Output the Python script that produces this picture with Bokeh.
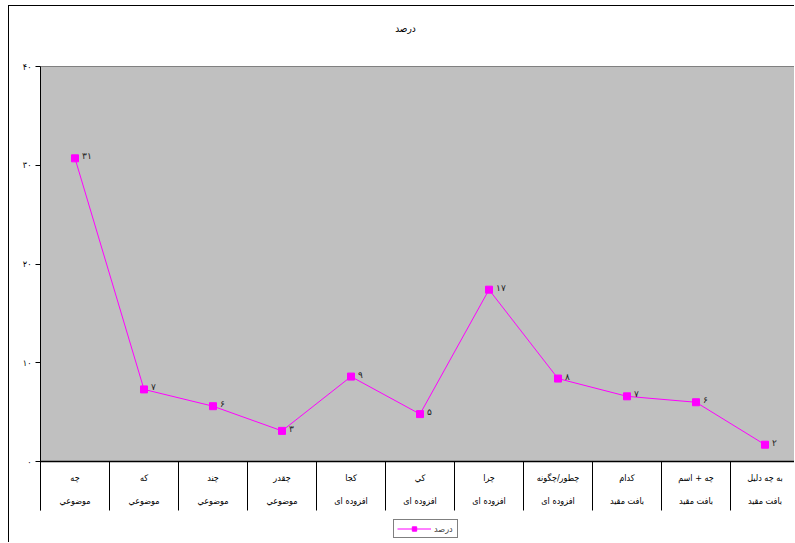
from bokeh.plotting import figure
from bokeh.models import (Range1d, ColumnDataSource, LabelSet, FixedTicker,
                          Legend, LegendItem)
from bokeh.core.properties import value
from bokeh.embed import file_html
from bokeh.resources import INLINE

# ---- data ----
title_text = "درصد"
series_name = "درصد"
categories_top = ["چه", "كه", "چند", "چقدر", "كجا", "كي", "چرا", "چطور/چگونه",
                  "كدام", "چه + اسم", "به چه دليل"]
categories_bottom = ["موضوعي", "موضوعي", "موضوعي", "موضوعي",
                     "افزوده ای", "افزوده ای", "افزوده ای", "افزوده ای",
                     "بافت مقيد", "بافت مقيد", "بافت مقيد"]
values = [30.7, 7.3, 5.6, 3.1, 8.6, 4.8, 17.4, 8.4, 6.6, 6.0, 1.7]
value_labels = ["۳۱", "۷", "۶", "۳", "۹", "۵", "۱۷", "۸", "۷", "۶", "۲"]
y_ticks = [0, 10, 20, 30, 40]
y_tick_labels = ["۰", "۱۰", "۲۰", "۳۰", "۴۰"]

# ---- layout constants (pixels) ----
W, H = 786, 537
B_LEFT = 31
TOP_PX = 60          # frame top -> value 40
PLOT_PX = 395        # value 40 -> value 0
BELOW_PX = H - TOP_PX - PLOT_PX
CAT_PX = 69.0
n = len(values)
y_min, y_max = 0, 40
ppu = PLOT_PX / (y_max - y_min)
x_end = (W - B_LEFT) / CAT_PX
y_top = y_max + TOP_PX / ppu
y_bot = y_min - BELOW_PX / ppu

FONT = "'DejaVu Sans Condensed', 'DejaVu Sans', sans-serif"

p = figure(width=W, height=H, x_range=Range1d(0, x_end), y_range=Range1d(y_bot, y_top),
           output_backend="svg", toolbar_location=None,
           min_border_left=B_LEFT, min_border_right=0,
           min_border_top=0, min_border_bottom=0,
           background_fill_color="white", border_fill_color="white",
           outline_line_color=None)
p.styles = {"margin-left": "8px", "margin-top": "5px",
            "border-left": "1px solid black", "border-top": "1px solid black"}
p.grid.visible = False
p.xaxis.visible = False

# grey plot area
p.quad(left=[0], right=[x_end + 1], bottom=[y_min], top=[y_max],
       fill_color="#C0C0C0", line_color="#808080", line_width=1)

# y axis limited to the plot area + category table
ya = p.yaxis[0]
ya.bounds = (y_min - 49 / ppu, y_max)
ya.ticker = FixedTicker(ticks=y_ticks)
ya.major_label_overrides = {t: l for t, l in zip(y_ticks, y_tick_labels)}
ya.major_label_text_font = FONT
ya.major_label_text_font_size = "9px"
ya.major_label_text_color = "black"
ya.major_tick_in = 0
ya.major_tick_out = 5
ya.major_label_standoff = 4
ya.axis_line_color = "black"
ya.major_tick_line_color = "black"
ya.minor_tick_line_color = None

# category axis line and table separators
bounds = list(range(n + 1))
p.segment(x0=[0], x1=[x_end + 1], y0=[y_min], y1=[y_min], line_color="black", line_width=1.5)
p.segment(x0=bounds, x1=bounds, y0=[y_min] * len(bounds), y1=[y_min - 49 / ppu] * len(bounds),
          line_color="black", line_width=1)

xs = [i + 0.5 for i in range(n)]
cat_src = ColumnDataSource(dict(
    x=xs,
    y1=[y_min - 16 / ppu] * n,
    y2=[y_min - 39 / ppu] * n,
    t1=categories_top,
    t2=categories_bottom,
))
for yc, tc in (("y1", "t1"), ("y2", "t2")):
    p.text(x="x", y=yc, text=tc, source=cat_src, text_align="center",
           text_baseline="middle", text_font=value(FONT), text_font_size="9px",
           text_color="black")

# title
p.text(x=[(405 - 40) / CAT_PX], y=[y_max + 38 / ppu], text=[title_text],
       text_align="center", text_baseline="middle", text_font=value(FONT),
       text_font_size="10px", text_color="black")

# series
src = ColumnDataSource(dict(x=xs, y=values, lbl=value_labels))
line_r = p.line("x", "y", source=src, line_color="#FF00FF", line_width=1)
pts_r = p.scatter("x", "y", source=src, marker="square", size=7,
                  fill_color="#FF00FF", line_color="#FF00FF")

p.add_layout(LabelSet(x="x", y="y", text="lbl", source=src, x_offset=7, y_offset=2,
                      text_align="left", text_baseline="middle",
                      text_font=FONT, text_font_size="9px", text_color="#222222"))

legend = Legend(items=[LegendItem(label=series_name, renderers=[line_r, pts_r])],
                location=(353, 5), orientation="horizontal",
                border_line_color="black", border_line_width=1,
                background_fill_color="white", background_fill_alpha=1,
                label_text_font=FONT, label_text_font_size="9px",
                glyph_width=34, glyph_height=11, label_standoff=3,
                padding=3, spacing=0, margin=0, label_height=11)
p.add_layout(legend)

open("out.html", "w").write(file_html(p, INLINE))
